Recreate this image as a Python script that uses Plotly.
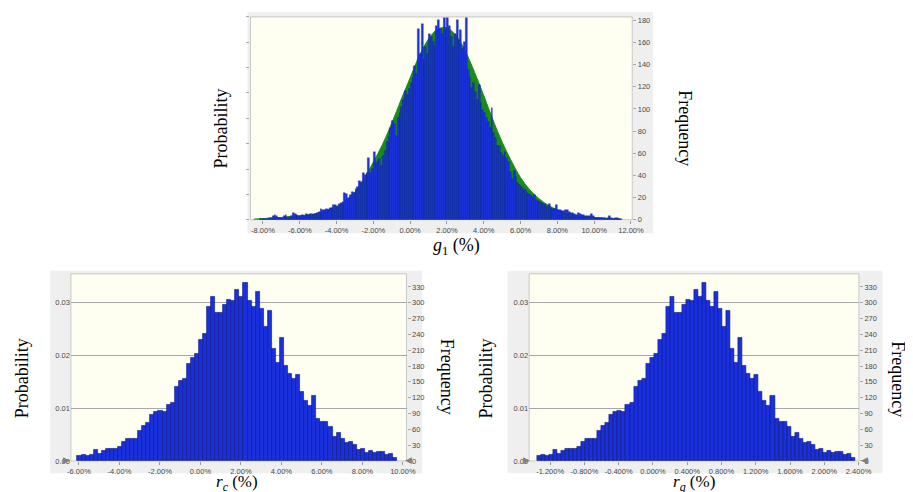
import numpy as np
import plotly.graph_objects as go

# ---------------- data ----------------
g1_bin_start = -8.2
g1_bin_width = 0.1
g1_counts = [
    1, 1, 1, 1, 1, 2, 2, 3, 4, 3,
    2, 2, 2, 3, 4, 2, 2, 3, 6, 5,
    4, 3, 3, 4, 3, 5, 4, 5, 5, 4,
    5, 6, 7, 10, 9, 9, 10, 9, 11, 11,
    13, 13, 12, 14, 15, 16, 24, 23, 20, 22,
    25, 24, 28, 30, 35, 34, 42, 40, 42, 56,
    42, 46, 61, 51, 53, 55, 49, 58, 62, 70,
    75, 83, 89, 86, 76, 92, 96, 102, 108, 116,
    113, 118, 123, 128, 139, 132, 172, 150, 177, 144,
    156, 150, 168, 165, 160, 156, 175, 180, 172, 168,
    182, 171, 182, 175, 165, 156, 168, 180, 162, 171,
    154, 160, 182, 135, 128, 119, 123, 115, 108, 122,
    105, 99, 96, 92, 88, 83, 101, 78, 74, 67,
    67, 60, 58, 61, 56, 52, 43, 37, 44, 39,
    33, 31, 30, 28, 27, 24, 23, 22, 21, 22,
    18, 17, 16, 15, 14, 13, 12, 14, 11, 10,
    10, 13, 9, 9, 8, 8, 9, 9, 7, 6,
    6, 5, 4, 6, 5, 4, 4, 3, 3, 3,
    5, 3, 2, 2, 2, 2, 2, 2, 1, 2,
    3, 2, 1, 2, 2, 1, 1,
]
g1_fit_x = [-8.5, -8, -7.5, -7, -6.5, -6, -5.5, -5, -4.5, -4, -3.5, -3, -2.5, -2,
            -1.5, -1, -0.5, 0, 0.5, 1, 1.5, 2, 2.5, 3, 3.5, 4, 4.5, 5, 5.5, 6,
            6.5, 7, 7.5, 8, 8.5, 9, 9.5, 10, 10.5, 11, 11.5]
g1_fit_y = [0.5, 1, 1.5, 2, 3, 3.5, 4.5, 6, 9, 12, 17, 25, 37, 52,
            68, 87, 108, 128, 148, 163, 172, 173, 166, 152, 133, 112, 90, 70, 53, 38,
            27, 19, 13, 9, 6, 4, 3, 2, 1.5, 1, 0.5]

r_counts = [
    9, 11, 9, 12, 22, 13, 19, 23, 23, 24,
    27, 37, 43, 42, 42, 57, 67, 73, 87, 93,
    96, 94, 106, 110, 140, 152, 156, 185, 196, 203,
    229, 242, 292, 311, 281, 281, 296, 306, 304, 324,
    312, 337, 303, 292, 320, 288, 255, 284, 213, 186,
    234, 180, 166, 155, 163, 132, 114, 104, 124, 80,
    74, 75, 65, 45, 53, 43, 34, 37, 30, 22,
    23, 16, 20, 15, 18, 17, 12, 14, 7,
]
rc_bin_start = -6.08
rc_bin_width = 0.2
rq_bin_start = -1.352
rq_bin_width = 0.047

g1_xticks = [-8, -6, -4, -2, 0, 2, 4, 6, 8, 10, 12]
rc_xticks = [-6, -4, -2, 0, 2, 4, 6, 8, 10]
rq_xticks = [-1.2, -0.8, -0.4, 0.0, 0.4, 0.8, 1.2, 1.6, 2.0, 2.4]

# ---------------- helpers ----------------
W, H = 913, 492
def px(x):
    return x / W
def py(y):
    return 1 - y / H

def centers(start, width, n):
    return start + width * (np.arange(n) + 0.5)

BAR_FILL = "#1a30dc"
BAR_LINE = "#0b1680"
CREAM = "#fefef1"
PANEL = "#efefef"
TICKFONT = dict(family="Liberation Sans, Arial", size=7.5, color="#4a4a4a")
SERIF = "Liberation Serif, Times New Roman, serif"
G1_TOP = 183

fig = go.Figure()

# top: fitted curve (green area) on base axis y, bars on overlay axis y7 (drawn above)
fig.add_trace(go.Scatter(x=g1_fit_x, y=g1_fit_y, mode="lines",
                         line=dict(color="#1f8a1f", width=1, shape="spline"),
                         fill="tozeroy", fillcolor="#1a8a1a", xaxis="x", yaxis="y", hoverinfo="skip"))
fig.add_trace(go.Bar(x=centers(g1_bin_start, g1_bin_width, len(g1_counts)), y=g1_counts,
                     width=g1_bin_width, marker=dict(color="#1c34e0", line=dict(color=BAR_LINE, width=0.3)),
                     xaxis="x", yaxis="y7"))
# bottom left
fig.add_trace(go.Bar(x=centers(rc_bin_start, rc_bin_width, len(r_counts)), y=r_counts,
                     width=rc_bin_width, marker=dict(color=BAR_FILL, line=dict(color=BAR_LINE, width=0.6)),
                     xaxis="x2", yaxis="y3"))
# bottom right
fig.add_trace(go.Bar(x=centers(rq_bin_start, rq_bin_width, len(r_counts)), y=r_counts,
                     width=rq_bin_width, marker=dict(color=BAR_FILL, line=dict(color=BAR_LINE, width=0.6)),
                     xaxis="x3", yaxis="y5"))
# invisible traces to keep the probability axes alive
for xa, ya in [("x", "y2"), ("x2", "y4"), ("x3", "y6")]:
    fig.add_trace(go.Scatter(x=[0], y=[0], mode="markers", marker=dict(opacity=0, size=1),
                             xaxis=xa, yaxis=ya, hoverinfo="skip"))

def xax(domain, anchor, rng, ticks, fmt):
    return dict(domain=domain, anchor=anchor, range=rng, tickmode="array", tickvals=ticks,
                ticktext=[format(t, fmt) + "%" for t in ticks], ticks="outside", ticklen=3,
                tickcolor="#999", tickfont=TICKFONT, showgrid=False, zeroline=False, showline=False)

def freq_ax(domain, anchor, top, dtick):
    return dict(domain=domain, anchor=anchor, side="right", range=[0, top], dtick=dtick,
                ticks="outside", ticklen=3, tickcolor="#aaa", tickfont=TICKFONT,
                showgrid=False, zeroline=False)

top_x = [px(243), px(632)]
top_y = [py(213.3), py(8)]
bl_x = [px(60), px(402)]
br_x = [px(527), px(863)]
bot_y = [py(457.5), py(268)]

fig.update_layout(
    width=W, height=H, margin=dict(l=0, r=0, t=0, b=0),
    paper_bgcolor="white", plot_bgcolor="rgba(0,0,0,0)",
    showlegend=False, bargap=0,
    xaxis=xax(top_x, "y", [-8.68, 12.07], g1_xticks, ".2f"),
    yaxis=freq_ax(top_y, "x", G1_TOP, 20),
    yaxis2=dict(overlaying="y", side="left", anchor="x", range=[0, 0.016], dtick=0.002,
                showticklabels=False, ticks="outside", ticklen=3, tickcolor="#aaa",
                showgrid=False, zeroline=False),
    yaxis7=dict(overlaying="y", side="right", anchor="x", range=[0, G1_TOP], visible=False,
                showgrid=False, zeroline=False),
    xaxis2=xax(bl_x, "y3", [-6.40, 10.18], rc_xticks, ".2f"),
    yaxis3=freq_ax(bot_y, "x2", 355, 30),
    yaxis4=dict(overlaying="y3", side="left", anchor="x2", range=[0, 0.0355], dtick=0.01,
                tickformat=".2f", ticks="", tickfont=TICKFONT, showgrid=True,
                gridcolor="#a8a8a8", gridwidth=1, zeroline=False),
    xaxis3=xax(br_x, "y5", [-1.444, 2.404], rq_xticks, ".3f"),
    yaxis5=freq_ax(bot_y, "x3", 355, 30),
    yaxis6=dict(overlaying="y5", side="left", anchor="x3", range=[0, 0.0355], dtick=0.01,
                tickformat=".2f", ticks="", tickfont=TICKFONT, showgrid=True,
                gridcolor="#a8a8a8", gridwidth=1, zeroline=False),
)

shapes = []
for (x0, x1, y0, y1) in [(240, 653, 3, 227), (39, 418, 265, 470), (505, 887, 265, 470)]:
    shapes.append(dict(type="rect", xref="paper", yref="paper", x0=px(x0), x1=px(x1), y0=py(y1), y1=py(y0),
                       fillcolor=PANEL, line=dict(width=0), layer="below"))
for (dx, dy) in [(top_x, top_y), (bl_x, bot_y), (br_x, bot_y)]:
    shapes.append(dict(type="rect", xref="paper", yref="paper", x0=dx[0], x1=dx[1], y0=dy[0], y1=dy[1],
                       fillcolor=CREAM, line=dict(color="#c8c8c8", width=1), layer="below"))
fig.update_layout(shapes=shapes)

ann = []
def title(text, x, y, angle=0, size=18):
    ann.append(dict(text=text, x=px(x), y=py(y), xref="paper", yref="paper", showarrow=False,
                    textangle=angle, font=dict(family=SERIF, size=size, color="black"),
                    xanchor="center", yanchor="middle"))
title("Probability", 212, 121, -90)
title("Frequency", 686, 121, 90)
title("<i>g</i><sub>1</sub> (%)", 453, 240)
title("Probability", 11, 374, -90)
title("Frequency", 443, 372, 90)
title("<i>r<sub>c</sub></i> (%)", 229, 480, size=17)
title("Probability", 483, 374, -90)
title("Frequency", 902, 375, 90)
title("<i>r<sub>q</sub></i> (%)", 695, 480, size=17)

for (x, s) in [(56, "▶"), (404, "◀"), (524, "▶"), (869, "◀")]:
    ann.append(dict(text=s, x=px(x), y=py(457), xref="paper", yref="paper", showarrow=False,
                    font=dict(family="DejaVu Sans", size=9, color="#808080"),
                    xanchor="center", yanchor="middle"))
fig.update_layout(annotations=ann)

fig.write_html("out.html")
